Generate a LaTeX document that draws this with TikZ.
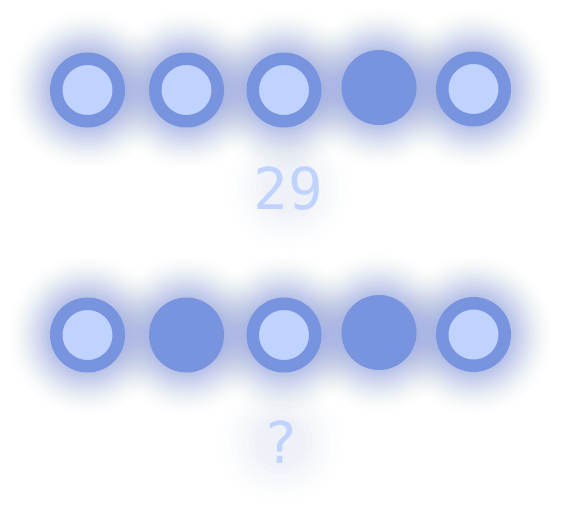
\documentclass[tikz,border=0pt]{standalone}
\usepackage{fontspec}
\newfontfamily\digitfont{DejaVu Sans Mono}
\usetikzlibrary{backgrounds}
\definecolor{bitring}{RGB}{120,148,223}
\definecolor{bitcore}{RGB}{192,211,254}
\definecolor{glowblue}{RGB}{104,128,228}
\tikzset{
  bit_one/.style={
    circle, draw=bitring, line width=12.5pt, fill=bitcore,
    minimum size=62.5pt, inner sep=0pt
  },
  bit_zero/.style={
    circle, fill=bitring, minimum size=75pt, inner sep=0pt
  },
  glow/.style={fill=glowblue},
  numlabel/.style={
    font=\digitfont\fontsize{57.6}{60}\selectfont, text=bitcore,
    anchor=base, inner sep=0pt
  },
}

\begin{document}
\begin{tikzpicture}[x=1pt, y=-1pt]
  \useasboundingbox (0,0) rectangle (562,516);

  % ============ ROW 1 (known value) ============
  \node[bit_one]  (a1) at ( 87.5, 90.0) {};
  \node[bit_one]  (a2) at (186.5, 90.0) {};
  \node[bit_one]  (a3) at (284.0, 90.0) {};
  \node[bit_zero] (a4) at (379.0, 87.5) {};
  \node[bit_one]  (a5) at (473.5, 89.0) {};
  \node[numlabel] (t1) at (288.5, 209.0) {29};

  % ============ ROW 2 (to guess) ============
  \node[bit_one]  (b1) at ( 87.5, 335.0) {};
  \node[bit_zero] (b2) at (186.5, 335.0) {};
  \node[bit_one]  (b3) at (284.0, 335.0) {};
  \node[bit_zero] (b4) at (379.0, 332.5) {};
  \node[bit_one]  (b5) at (473.5, 334.5) {};
  \node[numlabel] (t2) at (280.5, 463.0) {?};

  % ============ GLOW ============
  \begin{scope}[on background layer]
    \fill[white] (0,0) rectangle (562,516);
    % soft fall-off, built from stacked discs (step 2, reach 44)
    \foreach \n in {a1, a2, a3, a4, a5, b1, b2, b3, b4, b5} {
      \foreach \j in {0,...,21} {
        \pgfmathsetmacro\op{0.5*((1-\j/22)^2-(1-(\j+1)/22)^2)}
        \fill[glow, fill opacity=\op] (\n) circle ({(37.5+2*\j+2)*1pt});
      }
    }
    % faint halo round the numbers
    \foreach \n/\y in {t1/188, t2/442} {
      \foreach \j in {0,...,7} {
        \pgfmathsetmacro\op{0.09*((1-\j/8)^2-(1-(\j+1)/8)^2)}
        \fill[glow, fill opacity=\op] (\n |- 0,\y) circle ({(20+6*\j+6)*1pt});
      }
    }
  \end{scope}

\end{tikzpicture}
\end{document}
